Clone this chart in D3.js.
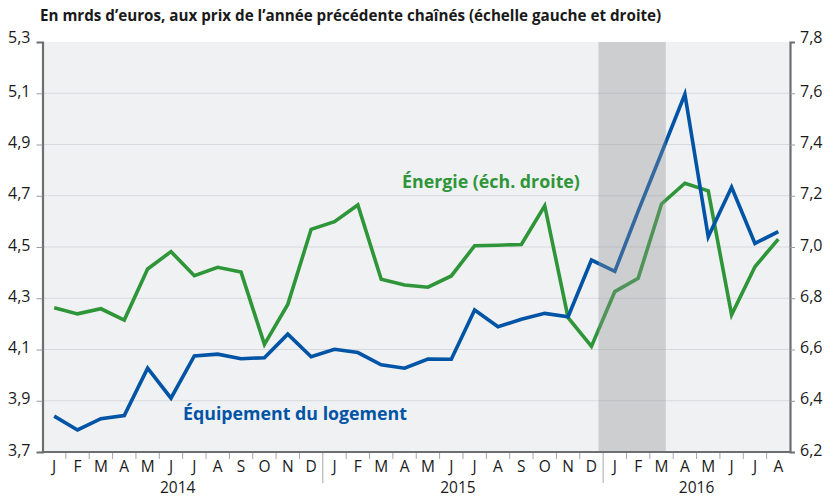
<!DOCTYPE html>
<html>
<head>
<meta charset="utf-8">
<script src="https://cdn.jsdelivr.net/npm/d3@7"></script>
<style>
  body { margin: 0; background: #fff; }
  text { font-family: "Open Sans", "Noto Sans", sans-serif; }
</style>
</head>
<body>
<script>
// months J 2014 -> A 2016
var months = ['J','F','M','A','M','J','J','A','S','O','N','D',
              'J','F','M','A','M','J','J','A','S','O','N','D',
              'J','F','M','A','M','J','J','A'];
var years = ['2014', '2015', '2016'];
var yearStart = [0, 12, 24];
var yearEnd = [12, 24, 32];

// Équipement du logement (left scale)
var equipement = [3.84, 3.786, 3.83, 3.842, 4.027, 3.91, 4.075, 4.082, 4.064, 4.068, 4.16, 4.072,
                  4.101, 4.088, 4.04, 4.027, 4.063, 4.062, 4.254, 4.189, 4.218, 4.241, 4.228, 4.449,
                  4.405, 4.64, 4.867, 5.096, 4.54, 4.733, 4.514, 4.56];
// Énergie (right scale)
var energie = [6.763, 6.739, 6.759, 6.715, 6.914, 6.982, 6.888, 6.921, 6.902, 6.62, 6.776, 7.069,
               7.099, 7.164, 6.874, 6.852, 6.843, 6.887, 7.005, 7.007, 7.01, 7.161, 6.724, 6.612,
               6.826, 6.878, 7.168, 7.249, 7.219, 6.735, 6.923, 7.031];

var leftTicks = [3.7, 3.9, 4.1, 4.3, 4.5, 4.7, 4.9, 5.1, 5.3];
var rightTicks = [6.2, 6.4, 6.6, 6.8, 7.0, 7.2, 7.4, 7.6, 7.8];
var shade = [23.8, 26.68]; // in month units

var W = 834, H = 499;
var m = {left: 42.5, right: 44, top: 42, bottom: 47};

var svg = d3.select('body').append('svg')
    .attr('width', W)
    .attr('height', H);

var xm = d3.scaleLinear().domain([0, months.length]).range([m.left, W - m.right]);
var yL = d3.scaleLinear().domain([3.7, 5.3]).range([H - m.bottom, m.top]);
var yR = d3.scaleLinear().domain([6.2, 7.8]).range([H - m.bottom, m.top]);

var fmt = function(d) { return d3.format('.1f')(d).replace('.', ','); };

// title
svg.append('text')
  .attr('x', 40).attr('y', 21)
  .style('font-size', '15.2px').style('font-weight', 'bold').attr('fill', '#1a1a1a')
  .text('En mrds d\u2019euros, aux prix de l\u2019ann\u00e9e pr\u00e9c\u00e9dente cha\u00een\u00e9s (\u00e9chelle gauche et droite)');

// plot background
svg.append('rect')
  .attr('x', xm(0)).attr('y', m.top)
  .attr('width', xm(months.length) - xm(0)).attr('height', H - m.bottom - m.top)
  .attr('fill', '#f0f1f3');

// grid
svg.selectAll('.grid').data(leftTicks.slice(1, -1)).enter().append('line')
  .attr('x1', xm(0)).attr('x2', xm(months.length))
  .attr('y1', function(d) { return yL(d); }).attr('y2', function(d) { return yL(d); })
  .attr('stroke', '#d8d9dc').attr('stroke-width', 1);

// lines
var lineL = d3.line().x(function(d, i) { return xm(i + 0.5); }).y(function(d) { return yL(d); });
var lineR = d3.line().x(function(d, i) { return xm(i + 0.5); }).y(function(d) { return yR(d); });

svg.append('path').datum(energie).attr('d', lineR)
  .attr('fill', 'none').attr('stroke', '#2e9639').attr('stroke-width', 3.6).attr('stroke-linejoin', 'miter');
svg.append('path').datum(equipement).attr('d', lineL)
  .attr('fill', 'none').attr('stroke', '#0054a5').attr('stroke-width', 3.6).attr('stroke-linejoin', 'miter');

// shaded period (over the lines)
svg.append('rect')
  .attr('x', xm(shade[0])).attr('y', m.top)
  .attr('width', xm(shade[1]) - xm(shade[0])).attr('height', H - m.bottom - m.top)
  .attr('fill', '#8e9092').attr('opacity', 0.36);

// series labels
svg.append('text')
  .attr('x', 402).attr('y', 188)
  .style('font-size', '17.8px').style('font-weight', 'bold').attr('fill', '#2e9639')
  .text('\u00c9nergie (\u00e9ch. droite)');
svg.append('text')
  .attr('x', 183).attr('y', 420)
  .style('font-size', '17.8px').style('font-weight', 'bold').attr('fill', '#0054a5')
  .text('\u00c9quipement du logement');

// left axis
var axL = d3.axisLeft(yL).tickValues(leftTicks).tickFormat(fmt).tickSize(6).tickPadding(6);
var gL = svg.append('g').attr('transform', 'translate(' + xm(0) + ',0)').call(axL);
// right axis
var axR = d3.axisRight(yR).tickValues(rightTicks).tickFormat(fmt).tickSize(5).tickPadding(5);
var gR = svg.append('g').attr('transform', 'translate(' + xm(months.length) + ',0)').call(axR);

[gL, gR].forEach(function(g) {
  g.select('.domain').attr('stroke', '#6d6e71').attr('stroke-width', 2.2);
  g.selectAll('.tick line').attr('stroke', '#9a9b9e');
  g.selectAll('.tick text').style('font-size', '16px').attr('fill', '#1a1a1a').attr('dy', '0.2em');
  g.selectAll('.tick').filter(function(d) { return d === 5.3 || d === 7.8 || d === 3.7 || d === 6.2; })
    .select('line').remove();
});
gL.selectAll('.tick').filter(function(d) { return d === 5.3; }).select('text').attr('dy', '0.05em');
gR.selectAll('.tick').filter(function(d) { return d === 7.8; }).select('text').attr('dy', '0.05em');

// bottom axis
var base = H - m.bottom;
svg.append('line')
  .attr('x1', xm(0) - 1).attr('x2', xm(months.length) + 1)
  .attr('y1', base).attr('y2', base)
  .attr('stroke', '#6d6e71').attr('stroke-width', 2.2);

var bounds = d3.range(1, months.length);
svg.selectAll('.mtick').data(bounds).enter().append('line')
  .attr('x1', function(d) { return xm(d); }).attr('x2', function(d) { return xm(d); })
  .attr('y1', base + 1)
  .attr('y2', function(d) { return (d % 12 === 0) ? base + 31 : base + 7; })
  .attr('stroke', '#a6a7aa').attr('stroke-width', 1);

svg.selectAll('.mlab').data(months).enter().append('text')
  .attr('x', function(d, i) { return xm(i + 0.5); })
  .attr('y', base + 20)
  .attr('text-anchor', 'middle')
  .style('font-size', '15.5px').attr('fill', '#1a1a1a')
  .text(function(d) { return d; });

svg.selectAll('.ylab').data(years).enter().append('text')
  .attr('x', function(d, i) { return xm((yearStart[i] + yearEnd[i]) / 2) - (i < 2 ? 5 : 0); })
  .attr('y', base + 41)
  .attr('text-anchor', 'middle')
  .style('font-size', '15.5px').attr('fill', '#1a1a1a')
  .text(function(d) { return d; });
</script>
</body>
</html>
